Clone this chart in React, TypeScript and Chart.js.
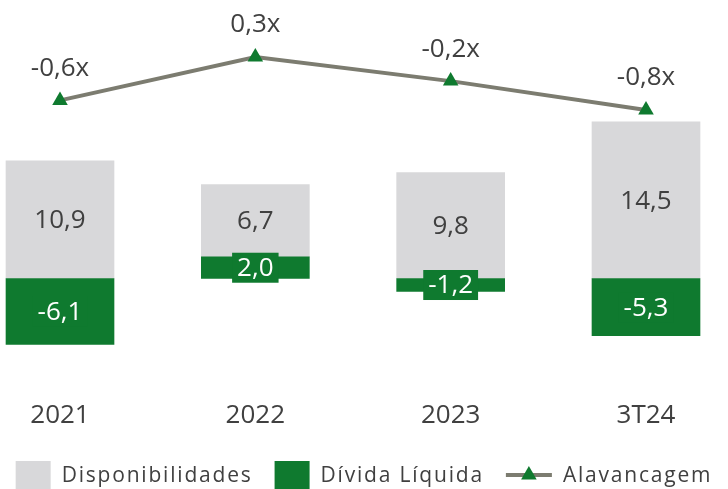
import React, { useEffect, useRef } from 'react';
import { Chart, registerables } from 'chart.js';

Chart.register(...registerables);

const categories = ['2021', '2022', '2023', '3T24'];
const disponibilidades = [10.9, 6.7, 9.8, 14.5];
const dividaLiquida = [-6.1, 2.0, -1.2, -5.3];
const alavancagem = [-0.6, 0.3, -0.2, -0.8];

const GRAY = '#d8d8da';
const GREEN = '#0f7a2f';
const LINE = '#7c7c70';
const TEXT = '#404040';
const FONT = '"Open Sans", sans-serif';

const fmt = (v: number) => v.toFixed(1).replace('.', ',');

const valueLabels = {
  id: 'valueLabels',
  afterDatasetsDraw(chart: any) {
    const ctx = chart.ctx;
    ctx.save();
    ctx.textAlign = 'center';
    ctx.textBaseline = 'middle';
    chart.data.datasets.forEach((ds: any, di: number) => {
      const meta = chart.getDatasetMeta(di);
      meta.data.forEach((el: any, i: number) => {
        const v = ds.data[i].y;
        if (ds.kind === 'line') {
          const { x, y } = el.getProps(['x', 'y'], true);
          ctx.font = `400 26px ${FONT}`;
          ctx.fillStyle = TEXT;
          ctx.fillText(fmt(v) + 'x', x, y - 32);
          return;
        }
        const { x, y, base } = el.getProps(['x', 'y', 'base'], true);
        const cy = (y + base) / 2;
        ctx.font = `400 26px ${FONT}`;
        if (ds.kind === 'green') {
          const text = fmt(v);
          const w = ctx.measureText(text).width + 10;
          const h = 30;
          ctx.fillStyle = GREEN;
          ctx.fillRect(x - w / 2, cy - h / 2, w, h);
          ctx.fillStyle = '#ffffff';
          ctx.fillText(text, x, cy + 1);
        } else {
          ctx.fillStyle = TEXT;
          ctx.fillText(fmt(v), x, cy + 1);
        }
      });
    });
    ctx.restore();
  },
};

const customLegend = {
  id: 'customLegend',
  afterDraw(chart: any) {
    const ctx = chart.ctx;
    const ds = chart.data.datasets;
    const items = [ds[1], ds[0], ds[2]];
    const fontSize = 21;
    ctx.save();
    ctx.font = `400 ${fontSize}px ${FONT}`;
    try {
      (ctx as any).letterSpacing = '1.8px';
    } catch (e) {}
    ctx.textBaseline = 'middle';
    ctx.textAlign = 'left';
    const boxW = 35;
    const boxH = 28;
    const lineW = 46;
    const gapText = 11;
    const gapItem = 22;
    const widths = items.map((it: any) => (it.kind === 'line' ? lineW : boxW) + gapText + ctx.measureText(it.label).width);
    const total = widths.reduce((a: number, b: number) => a + b, 0) + gapItem * (items.length - 1);
    let x = (chart.width - total) / 2;
    const cy = 475;
    items.forEach((it: any) => {
      if (it.kind === 'line') {
        ctx.strokeStyle = LINE;
        ctx.lineWidth = 4;
        ctx.beginPath();
        ctx.moveTo(x, cy);
        ctx.lineTo(x + lineW, cy);
        ctx.stroke();
        const r = 9;
        const px = x + lineW / 2;
        ctx.fillStyle = GREEN;
        ctx.beginPath();
        ctx.moveTo(px, cy - r);
        ctx.lineTo(px + r * Math.sin((2 * Math.PI) / 3), cy - r * Math.cos((2 * Math.PI) / 3));
        ctx.lineTo(px + r * Math.sin((4 * Math.PI) / 3), cy - r * Math.cos((4 * Math.PI) / 3));
        ctx.closePath();
        ctx.fill();
        x += lineW + gapText;
      } else {
        ctx.fillStyle = it.backgroundColor;
        ctx.fillRect(x, cy - boxH / 2, boxW, boxH);
        x += boxW + gapText;
      }
      ctx.fillStyle = TEXT;
      ctx.fillText(it.label, x, cy + 1);
      x += ctx.measureText(it.label).width + gapItem;
    });
    ctx.restore();
  },
};

export default function App() {
  const ref = useRef<HTMLCanvasElement | null>(null);

  useEffect(() => {
    if (!ref.current) return;
    const chart = new Chart(ref.current, {
      type: 'bar',
      data: {
        datasets: [
          {
            kind: 'green',
            label: 'Dívida Líquida',
            data: dividaLiquida.map((v, i) => ({ x: i, y: v })),
            backgroundColor: GREEN,
            barThickness: 108,
            yAxisID: 'y',
          } as any,
          {
            kind: 'gray',
            label: 'Disponibilidades',
            data: disponibilidades.map((v, i) => ({ x: i, y: v })),
            backgroundColor: GRAY,
            barThickness: 108,
            yAxisID: 'y',
          } as any,
          {
            kind: 'line',
            type: 'line',
            label: 'Alavancagem',
            data: alavancagem.map((v, i) => ({ x: i, y: v })),
            borderColor: LINE,
            borderWidth: 4,
            pointStyle: 'triangle',
            pointRadius: 9,
            pointBackgroundColor: GREEN,
            pointBorderColor: GREEN,
            pointBorderWidth: 0,
            yAxisID: 'y1',
            clip: false,
          } as any,
        ],
      },
      options: {
        animation: false,
        responsive: true,
        maintainAspectRatio: false,
        layout: { autoPadding: false, padding: { left: 0, right: 0, top: 0, bottom: 45 } },
        plugins: { legend: { display: false }, tooltip: { enabled: false } },
        scales: {
          x: {
            type: 'linear',
            offset: false,
            min: -0.3072,
            max: 3.4198,
            stacked: true,
            grid: { display: false, drawTicks: false },
            border: { display: false },
            afterBuildTicks: (s: any) => {
              s.ticks = categories.map((_, i) => ({ value: i }));
            },
            afterFit: (s: any) => {
              s.height = 70;
            },
            ticks: {
              padding: 26,
              color: TEXT,
              autoSkip: false,
              maxRotation: 0,
              font: { family: FONT, size: 26 },
              callback: (v: any) => categories[v] ?? '',
            },
          },
          y: { display: false, stacked: true, min: -8.84, max: 25.79 },
          y1: { display: false, position: 'right', min: -6.276, max: 1.483 },
        },
      } as any,
      plugins: [valueLabels, customLegend],
    });
    return () => chart.destroy();
  }, []);

  return (
    <div style={{ position: 'absolute', left: 0, top: 0, width: 728, height: 489 }}>
      <canvas ref={ref} />
    </div>
  );
}
